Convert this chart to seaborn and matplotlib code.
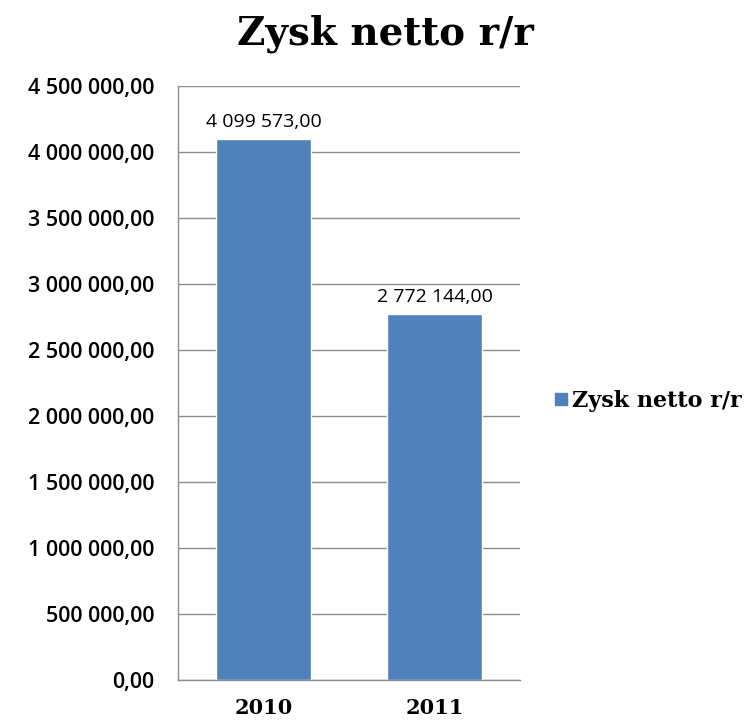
import pandas as pd
import matplotlib.pyplot as plt
import seaborn as sns
from matplotlib.ticker import FuncFormatter, MultipleLocator
from matplotlib.lines import Line2D

years = ["2010", "2011"]
profit = [4099573.00, 2772144.00]
series_name = "Zysk netto r/r"

data = pd.DataFrame({"year": years, "profit": profit})

sns.set_theme(style="white")
plt.rcParams['font.family'] = ['Open Sans', 'DejaVu Sans']
plt.rcParams['text.color'] = 'black'
plt.rcParams['xtick.color'] = 'black'
plt.rcParams['ytick.color'] = 'black'

bar_color = "#4F81BD"


def pl_fmt(v, pos=None):
    s = f"{v:,.2f}"
    return s.replace(",", " ").replace(".", ",")


fig = plt.figure(figsize=(7.52, 7.22), dpi=100)
ax = fig.add_axes([0.2367, 0.0582, 0.4548, 0.8227])
sns.barplot(data=data, x="year", y="profit", ax=ax, color=bar_color,
            width=0.56, saturation=1)

ax.set_ylim(0, 4500000)
ax.yaxis.set_major_locator(MultipleLocator(500000))
ax.yaxis.set_major_formatter(FuncFormatter(pl_fmt))
ax.set_axisbelow(True)
ax.yaxis.grid(True, color="#8c8c8c", linewidth=1)
ax.xaxis.grid(False)
for side in ["top", "right"]:
    ax.spines[side].set_visible(False)
for side in ["left", "bottom"]:
    ax.spines[side].set_color("#8c8c8c")
    ax.spines[side].set_linewidth(1)
ax.tick_params(axis="y", labelsize=15.5, pad=17, length=0, labelcolor="black")
ax.tick_params(axis="x", length=0, pad=13, labelcolor="black")
for lbl in ax.get_yticklabels():
    lbl.set_fontweight("semibold")
for lbl in ax.get_xticklabels():
    lbl.set_fontfamily("DejaVu Serif")
    lbl.set_fontweight("bold")
    lbl.set_fontsize(15)
ax.set_xlabel("")
ax.set_ylabel("")

for i, v in enumerate(profit):
    ax.text(i, v + 60000, pl_fmt(v), ha="center", va="bottom", fontsize=14,
            color="black")

fig.suptitle(series_name, x=0.512, y=0.98, fontsize=28, fontweight="bold",
             fontfamily="DejaVu Serif", va="top", color="black")

handle = Line2D([], [], marker="s", linestyle="", color=bar_color, markersize=9)
fig.legend([handle], [series_name], loc="center left", bbox_to_anchor=(0.705, 0.445),
           frameon=False, handletextpad=0.0, handlelength=1.0,
           prop={"family": "DejaVu Serif", "weight": "bold", "size": 16})

fig.savefig("out.png", dpi=100)
